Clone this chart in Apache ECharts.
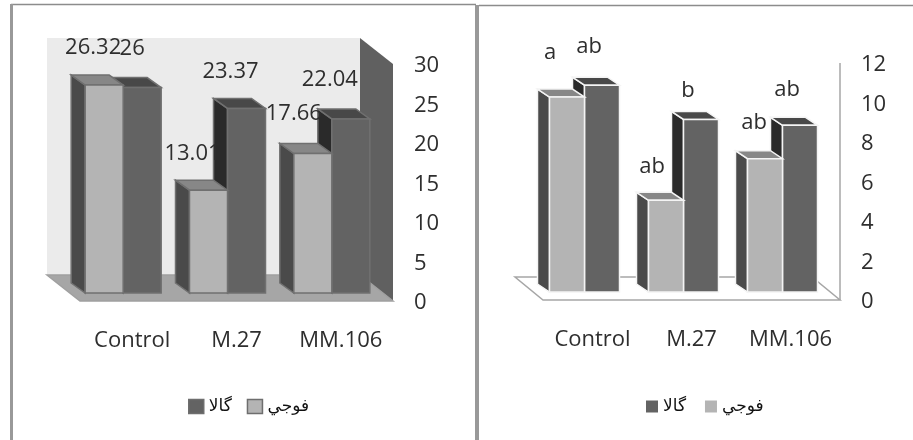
<!DOCTYPE html>
<html>
<head>
<meta charset="utf-8">
<script src="https://cdn.jsdelivr.net/npm/echarts@6/dist/echarts.min.js"></script>
<style>
html, body { margin: 0; background: #fff; }
#chart { width: 913px; height: 440px; }
</style>
</head>
<body>
<div id="chart"></div>
<script>
const categories = ['Control', 'M.27', 'MM.106']
const fujiName = 'فوجي'
const galaName = 'گالا'

// left chart
const fujiLeft = [26.32, 13.01, 17.66]
const galaLeft = [26, 23.37, 22.04]
const ticksLeft = [0, 5, 10, 15, 20, 25, 30]

// right chart, values, labels are the letters over the bars
const fujiRight = [9.87, 4.64, 6.75]
const galaRight = [10.47, 8.74, 8.44]
const ticksRight = [0, 2, 4, 6, 8, 10, 12]
const fujiRightLetters = ['a', 'ab', 'ab']
const galaRightLetters = ['ab', 'b', 'ab']

const font = '"Open Sans"'
const textColor = '#2e2e2e'

const panels = [
  { // left
    grid: { left: 80, top: 64, width: 313, height: 237 },
    barOffset: [-9, -8],
    depth: [-14, -10],
    barWidth: 38,
    labelOffset: [-15, -39],
    stroke: '#707070',
    wallDepth: [-33, -26],
    wall: '#ebebeb',
    side: '#606060',
    floor: '#a6a6a6',
    floorStroke: '#a0a0a0'
  },
  { // right
    grid: { left: 543, top: 63, width: 297, height: 237 },
    barOffset: [-8, -8],
    depth: [-12, -8],
    barWidth: 35,
    labelOffset: [-13, -38],
    stroke: '#f4f4f4',
    wallDepth: [-28, -23],
    wall: '#ffffff',
    side: '#ffffff',
    floor: '#ffffff',
    floorStroke: '#a6a6a6',
    wallLine: '#a6a6a6'
  }
]

// the labels were placed by hand in the original, so each one gets a small nudge
const labelNudges = {
  fujiLeft: [[4, 2], [-1, 3], [-4, -1]],
  galaLeft: [[5, 0], [-1, 2], [-6, 0]],
  fujiRight: [[-4, -6], [-1, 4], [2, 2]],
  galaRight: [[0, 0], [0, 9], [0, 2]]
}

const lightColors = { front: '#b4b4b4', left: '#4a4a4a', top: '#878787' }
const darkColors = { front: '#636363', left: '#2a2a2a', top: '#484848' }

function poly(points, fill, stroke, lineWidth) {
  return {
    type: 'polygon',
    shape: { points },
    style: { fill, stroke, lineWidth }
  }
}

// draws one 3d bar, front face comes from the axes
function barItem(panel, colors, side, nudges, letters) {
  return (params, api) => {
    const base = api.coord([api.value(0), 0])
    const top = api.coord([api.value(0), api.value(1)])
    const [ox, oy] = panel.barOffset
    const [dx, dy] = panel.depth
    const x0 = side < 0 ? base[0] + ox - panel.barWidth : base[0] + ox
    const x1 = x0 + panel.barWidth
    const y0 = base[1] + oy
    const y1 = top[1] + oy
    const nudge = nudges[params.dataIndex]
    const children = [
      poly([[x0 + dx, y0 + dy], [x0, y0], [x0, y1], [x0 + dx, y1 + dy]], colors.left, panel.stroke, 1.5),
      poly([[x0, y1], [x1, y1], [x1 + dx, y1 + dy], [x0 + dx, y1 + dy]], colors.top, panel.stroke, 1.5),
      poly([[x0, y0], [x1, y0], [x1, y1], [x0, y1]], colors.front, panel.stroke, 1.5),
      {
        type: 'text',
        style: {
          x: (x0 + x1) / 2 + panel.labelOffset[0] + nudge[0],
          y: y1 + panel.labelOffset[1] + nudge[1],
          text: letters ? letters[params.dataIndex] : String(api.value(1)),
          font: '22px ' + font,
          fill: textColor,
          align: 'center',
          verticalAlign: 'middle'
        },
        z2: 50
      }
    ]
    return { type: 'group', children }
  }
}

// back wall, right wall and floor
function roomItem(panel) {
  return (params) => {
    const { x, y, width, height } = params.coordSys
    const [dx, dy] = panel.wallDepth
    const r = x + width
    const b = y + height
    const children = [
      poly([[x + dx, y + dy], [r + dx, y + dy], [r + dx, b + dy], [x + dx, b + dy]], panel.wall),
      poly([[r + dx, y + dy], [r, y], [r, b], [r + dx, b + dy]], panel.side),
      poly([[x + dx, b + dy], [r + dx, b + dy], [r, b], [x, b]], panel.floor, panel.floorStroke, 1.5)
    ]
    if (panel.wallLine) {
      children.push({ type: 'line', shape: { x1: r, y1: y, x2: r, y2: b }, style: { stroke: panel.wallLine, lineWidth: 1.5 } })
    }
    return { type: 'group', children }
  }
}

const series = [
  { type: 'custom', silent: true, xAxisIndex: 0, yAxisIndex: 0, z: 1, data: [0], renderItem: roomItem(panels[0]) },
  { type: 'custom', silent: true, xAxisIndex: 1, yAxisIndex: 1, z: 1, data: [0], renderItem: roomItem(panels[1]) },
  {
    name: galaName, type: 'custom', xAxisIndex: 0, yAxisIndex: 0, z: 2,
    itemStyle: { color: darkColors.front },
    data: galaLeft.map((v, i) => [i, v]),
    renderItem: barItem(panels[0], darkColors, 1, labelNudges.galaLeft)
  },
  {
    name: fujiName, type: 'custom', xAxisIndex: 0, yAxisIndex: 0, z: 3,
    itemStyle: { color: lightColors.front },
    data: fujiLeft.map((v, i) => [i, v]),
    renderItem: barItem(panels[0], lightColors, -1, labelNudges.fujiLeft)
  },
  {
    name: galaName, type: 'custom', xAxisIndex: 1, yAxisIndex: 1, z: 2,
    itemStyle: { color: darkColors.front },
    data: galaRight.map((v, i) => [i, v]),
    renderItem: barItem(panels[1], darkColors, 1, labelNudges.galaRight, galaRightLetters)
  },
  {
    name: fujiName, type: 'custom', xAxisIndex: 1, yAxisIndex: 1, z: 3,
    itemStyle: { color: lightColors.front },
    data: fujiRight.map((v, i) => [i, v]),
    renderItem: barItem(panels[1], lightColors, -1, labelNudges.fujiRight, fujiRightLetters)
  }
]

function xAxis(gridIndex) {
  return {
    type: 'category',
    gridIndex,
    data: categories,
    axisLine: { show: false },
    axisTick: { show: false },
    axisLabel: { margin: 29, fontFamily: font, fontSize: 22, color: textColor, interval: 0 }
  }
}

function yAxis(gridIndex, ticks) {
  return {
    type: 'value',
    gridIndex,
    position: 'right',
    min: ticks[0],
    max: ticks[ticks.length - 1],
    interval: ticks[1] - ticks[0],
    axisLine: { show: false },
    axisTick: { show: false },
    splitLine: { show: false },
    // labels sit 2px under their tick in the original
    axisLabel: { margin: 21, fontFamily: font, fontSize: 22, color: textColor, verticalAlign: 'top', lineHeight: 4 }
  }
}

const chart = echarts.init(document.getElementById('chart'), null, { renderer: 'canvas' })
chart.setOption({
  animation: false,
  backgroundColor: '#fff',
  grid: panels.map(p => p.grid),
  xAxis: [xAxis(0), xAxis(1)],
  yAxis: [yAxis(0, ticksLeft), yAxis(1, ticksRight)],
  legend: [
    {
      left: 183, top: 393, itemWidth: 15, itemHeight: 14, itemGap: 15,
      data: [galaName, fujiName],
      icon: 'rect',
      selectedMode: false,
      itemStyle: { borderColor: '#6e6e6e', borderWidth: 1.5 },
      textStyle: { fontFamily: '"DejaVu Sans"', fontSize: 17, color: '#111' }
    },
    {
      left: 641, top: 393, itemWidth: 12, itemHeight: 12, itemGap: 19,
      data: [galaName, fujiName],
      icon: 'rect',
      selectedMode: false,
      textStyle: { fontFamily: '"DejaVu Sans"', fontSize: 17, color: '#111' }
    }
  ],
  graphic: [
    // panel frames
    { type: 'line', shape: { x1: 11, y1: 4.5, x2: 476, y2: 4.5 }, style: { stroke: '#8c8c8c', lineWidth: 1.5 } },
    { type: 'line', shape: { x1: 11.5, y1: 4, x2: 11.5, y2: 440 }, style: { stroke: '#999', lineWidth: 3 } },
    { type: 'line', shape: { x1: 477, y1: 5, x2: 477, y2: 440 }, style: { stroke: '#999', lineWidth: 4 } },
    { type: 'line', shape: { x1: 479, y1: 5.5, x2: 913, y2: 5.5 }, style: { stroke: '#8c8c8c', lineWidth: 1.5 } }
  ],
  series
})
</script>
</body>
</html>
